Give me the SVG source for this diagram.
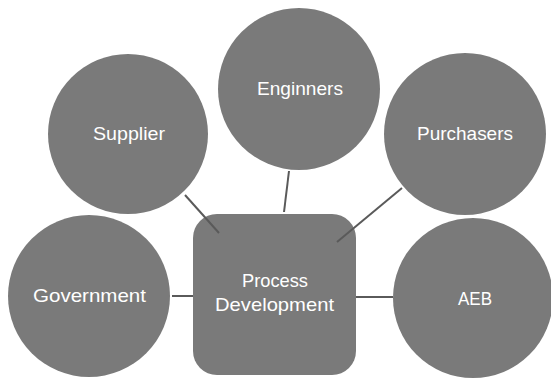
<svg xmlns="http://www.w3.org/2000/svg" width="551" height="378" viewBox="0 0 551 378">
<style>
.n{fill:#7a7a7a}
.t{font-family:"Liberation Sans",Arial,sans-serif;font-size:19px;fill:#ffffff;text-anchor:middle}
.c{stroke:#5a5a5a;stroke-width:2;fill:none}
</style>
<rect width="551" height="378" fill="#ffffff"/>
<g id="supplier"><circle class="n" cx="128" cy="134" r="80"/><text class="t" x="129" y="140" textLength="72" lengthAdjust="spacingAndGlyphs">Supplier</text></g>
<g id="enginners"><circle class="n" cx="299" cy="89" r="81"/><text class="t" x="300" y="95" textLength="86" lengthAdjust="spacingAndGlyphs">Enginners</text></g>
<g id="purchasers"><circle class="n" cx="465" cy="134" r="81"/><text class="t" x="465" y="140" textLength="96" lengthAdjust="spacingAndGlyphs">Purchasers</text></g>
<g id="government"><circle class="n" cx="89" cy="296" r="81"/><text class="t" x="89.5" y="302" textLength="113" lengthAdjust="spacingAndGlyphs">Government</text></g>
<g id="aeb"><circle class="n" cx="473" cy="298" r="80"/><text class="t" x="475" y="305" textLength="34" lengthAdjust="spacingAndGlyphs">AEB</text></g>
<g id="process-development"><rect class="n" x="193" y="214" width="163" height="161" rx="24"/><text class="t" x="275" y="287" textLength="66" lengthAdjust="spacingAndGlyphs">Process</text><text class="t" x="274.5" y="311" textLength="119" lengthAdjust="spacingAndGlyphs">Development</text></g>
<g id="connectors">
<line class="c" x1="185" y1="195" x2="219" y2="233"/>
<line class="c" x1="289" y1="171" x2="284" y2="212"/>
<line class="c" x1="402" y1="188" x2="337" y2="242"/>
<line class="c" x1="172" y1="296" x2="193" y2="296"/>
<line class="c" x1="356" y1="297" x2="393" y2="297"/>
</g>
</svg>
